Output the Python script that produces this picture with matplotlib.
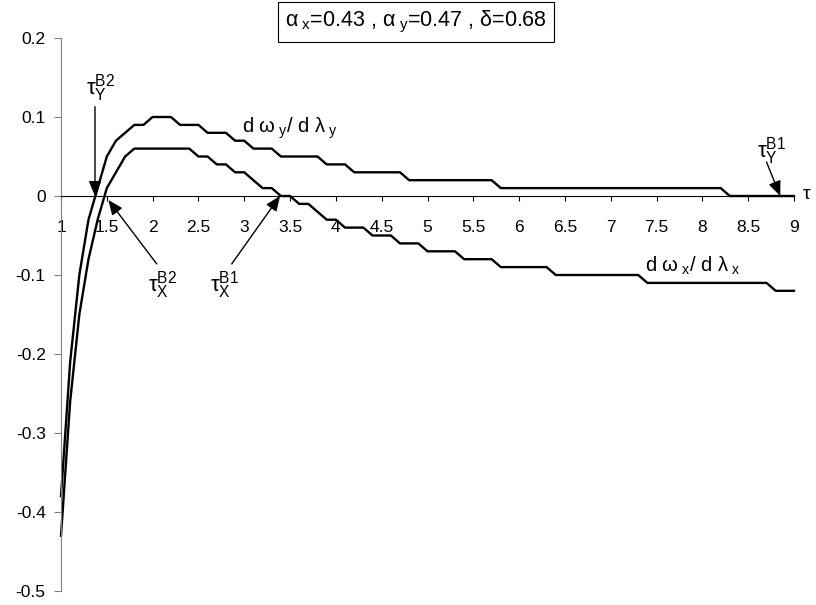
import matplotlib
matplotlib.use("Agg")
import matplotlib.pyplot as plt
import numpy as np

plt.rcParams['font.family'] = ['Liberation Sans', 'DejaVu Sans']
plt.rcParams['mathtext.fontset'] = 'custom'
plt.rcParams['mathtext.rm'] = 'Liberation Sans'
plt.rcParams['mathtext.it'] = 'Liberation Sans'
plt.rcParams['mathtext.bf'] = 'Liberation Sans:bold'

# tau grid, step 0.1
tau = np.round(np.linspace(1.0, 9.0, 81), 1)

# d omega_y / d lambda_y
dwy = [-0.38, -0.21, -0.10, -0.03, 0.01, 0.05, 0.07, 0.08, 0.09, 0.09,
       0.10, 0.10, 0.10, 0.09, 0.09, 0.09, 0.08, 0.08, 0.08, 0.07,
       0.07, 0.06, 0.06, 0.06, 0.05, 0.05, 0.05, 0.05, 0.05, 0.04,
       0.04, 0.04, 0.03, 0.03, 0.03, 0.03, 0.03, 0.03, 0.02, 0.02,
       0.02, 0.02, 0.02, 0.02, 0.02, 0.02, 0.02, 0.02, 0.01, 0.01,
       0.01, 0.01, 0.01, 0.01, 0.01, 0.01, 0.01, 0.01, 0.01, 0.01,
       0.01, 0.01, 0.01, 0.01, 0.01, 0.01, 0.01, 0.01, 0.01, 0.01,
       0.01, 0.01, 0.01, 0.00, 0.00, 0.00, 0.00, 0.00, 0.00, 0.00,
       0.00]

# d omega_x / d lambda_x
dwx = [-0.43, -0.26, -0.15, -0.08, -0.03, 0.01, 0.03, 0.05, 0.06, 0.06,
       0.06, 0.06, 0.06, 0.06, 0.06, 0.05, 0.05, 0.04, 0.04, 0.03,
       0.03, 0.02, 0.01, 0.01, 0.00, 0.00, -0.01, -0.01, -0.02, -0.03,
       -0.03, -0.04, -0.04, -0.04, -0.05, -0.05, -0.05, -0.06, -0.06, -0.06,
       -0.07, -0.07, -0.07, -0.07, -0.08, -0.08, -0.08, -0.08, -0.09, -0.09,
       -0.09, -0.09, -0.09, -0.09, -0.10, -0.10, -0.10, -0.10, -0.10, -0.10,
       -0.10, -0.10, -0.10, -0.10, -0.11, -0.11, -0.11, -0.11, -0.11, -0.11,
       -0.11, -0.11, -0.11, -0.11, -0.11, -0.11, -0.11, -0.11, -0.12, -0.12,
       -0.12]

xticks = [1, 1.5, 2, 2.5, 3, 3.5, 4, 4.5, 5, 5.5, 6, 6.5, 7, 7.5, 8, 8.5, 9]
xlabels = ['1', '1.5', '2', '2.5', '3', '3.5', '4', '4.5', '5', '5.5',
           '6', '6.5', '7', '7.5', '8', '8.5', '9']
yticks = [-0.5, -0.4, -0.3, -0.2, -0.1, 0, 0.1, 0.2]
ylabels = ['-0.5', '-0.4', '-0.3', '-0.2', '-0.1', '0', '0.1', '0.2']

fig = plt.figure(figsize=(8.16, 6.05), dpi=100)
ax = fig.add_axes([61 / 816, 14 / 605, 733 / 816, 553 / 605])

ax.plot(tau, dwy, color='black', lw=1.7, clip_on=False)
ax.plot(tau, dwx, color='black', lw=1.7, clip_on=False)

ax.set_xlim(1, 9)
ax.set_ylim(-0.5, 0.2)
ax.spines['top'].set_visible(False)
ax.spines['right'].set_visible(False)
ax.spines['bottom'].set_position(('data', 0))
ax.spines['bottom'].set_color('black')
ax.spines['left'].set_color('#808080')

ax.set_xticks(xticks)
ax.set_xticklabels(xlabels)
ax.set_yticks(yticks)
ax.set_yticklabels(ylabels)
ax.tick_params(axis='x', direction='out', length=3.6, width=0.8, color='black',
               pad=14, labelsize=12.5)
ax.tick_params(axis='y', direction='out', length=5, width=0.8, color='#808080',
               pad=6, labelsize=12.5)

# axis name at the end of the tau axis
ax.text(9.1, 0.002, 'τ', fontsize=14, ha='left', va='center')

# parameters box
fig.text(416 / 816, 1 - 22 / 605,
         'α$_{\\ x}$=0.43 , α$_{\\ y}$=0.47 , δ=0.68',
         fontsize=15.5, ha='center', va='center',
         bbox=dict(boxstyle='square,pad=0.32', fc='white', ec='black', lw=0.8))

# curve labels
ax.text(2.97, 0.08, 'd ω$_{\\ y}$/ d λ$_{\\ y}$',
        fontsize=14.5, ha='left', va='baseline')
ax.text(7.37, -0.096, 'd ω$_{\\ x}$/ d λ$_{\\ x}$',
        fontsize=14.5, ha='left', va='baseline')

# special points
arrow = dict(arrowstyle='-|>,head_length=0.9,head_width=0.38', color='black',
             lw=1.0, shrinkA=0, shrinkB=0)
marks = [
    ('τ$_Y^{B2}$', (1.43, 0.137), (1.371, 0.113), (1.371, 0.0)),
    ('τ$_X^{B2}$', (2.113, -0.113), (2.045, -0.086), (1.516, -0.005)),
    ('τ$_X^{B1}$', (2.79, -0.113), (2.863, -0.086), (3.39, 0.0)),
    ('τ$_Y^{B1}$', (8.76, 0.057), (8.70, 0.043), (8.85, 0.0)),
]
for label, txt, tail, tip in marks:
    ax.text(txt[0], txt[1], label, fontsize=16, ha='center', va='center')
    ax.annotate('', xy=tip, xytext=tail, arrowprops=arrow)

fig.savefig('out.png', dpi=100)
